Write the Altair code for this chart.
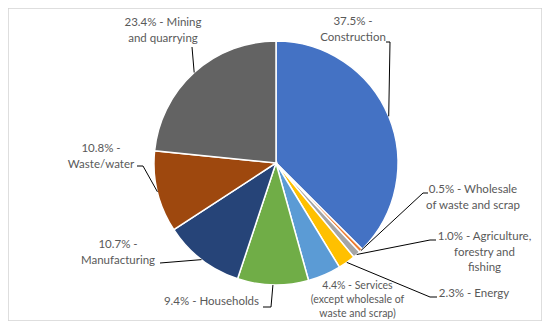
import math
import altair as alt
import pandas as pd

# ---- data ----
categories = [
    "Construction",
    "Wholesale of waste and scrap",
    "Agriculture, forestry and fishing",
    "Energy",
    "Services (except wholesale of waste and scrap)",
    "Households",
    "Manufacturing",
    "Waste/water",
    "Mining and quarrying",
]
shares = [37.5, 0.5, 1.0, 2.3, 4.4, 9.4, 10.7, 10.8, 23.4]
label_texts = [
    "37.5% -\nConstruction",
    "0.5% - Wholesale\nof waste and scrap",
    "1.0% - Agriculture,\nforestry and\nfishing",
    "2.3% - Energy",
    "4.4% - Services\n(except wholesale of\nwaste and scrap)",
    "9.4% - Households",
    "10.7% -\nManufacturing",
    "10.8% -\nWaste/water",
    "23.4% - Mining\nand quarrying",
]
colors = ["#4472C4", "#ED7D31", "#A5A5A5", "#FFC000", "#5B9BD5",
          "#70AD47", "#264478", "#9E480E", "#636363"]

# ---- layout (page pixel coordinates; y = first text line) ----
OFF = 8
W, H = 534, 313
CX, CY, R = 276, 163, 122
label_pos = [(353, 22), (473, 190), (484.5, 237), (474, 293.5), (357.5, 286),
             (211.5, 302), (118, 245), (101, 149), (163, 23)]
leader_pts = [
    [(390, 42), (386, 42)],
    [(423, 193), (428, 193)],
    [(430, 240), (436, 240)],
    [(430, 297), (437, 297)],
    [],
    [(271, 307), (263, 307)],
    [(160, 263)],
    [(143, 166), (137, 166)],
    [(192, 47)],
]

# ---- build tables ----
pie = pd.DataFrame({"cat": categories, "share": shares, "idx": range(len(shares))})

total = sum(shares)
segs = []
cum = 0.0
for i, s in enumerate(shares):
    mid = (cum + s / 2) / total * 2 * math.pi
    cum += s
    pts = leader_pts[i]
    if not pts:
        continue
    sx = CX + R * math.sin(mid)
    sy = CY - R * math.cos(mid)
    chain = [(sx, sy)] + pts
    for (a, b), (c, d) in zip(chain[:-1], chain[1:]):
        segs.append({"x": a - OFF, "y": b - OFF, "x2": c - OFF, "y2": d - OFF})
segs = pd.DataFrame(segs)

labels = pd.DataFrame({
    "label": label_texts,
    "x": [p[0] - OFF for p in label_pos],
    "y": [p[1] - OFF for p in label_pos],
    "small": [c.startswith("Services") for c in categories],
})

xs = alt.Scale(domain=[0, W], range=[0, W])
ys = alt.Scale(domain=[0, H], range=[0, H])

arcs = alt.Chart(pie).mark_arc(stroke="white", strokeWidth=1.5).encode(
    theta=alt.Theta("share:Q", stack=True),
    order=alt.Order("idx:Q"),
    color=alt.Color("cat:N", scale=alt.Scale(domain=categories, range=colors), legend=None),
    x=alt.value(CX - OFF),
    y=alt.value(CY - OFF),
    radius=alt.value(R),
)

rules = alt.Chart(segs).mark_rule(color="#000000", strokeWidth=1).encode(
    x=alt.X("x:Q", scale=xs, axis=None),
    y=alt.Y("y:Q", scale=ys, axis=None),
    x2="x2:Q",
    y2="y2:Q",
)

text_main = alt.Chart(labels).transform_filter("!datum.small").mark_text(
    font="Lato", fontSize=11.5, color="#595959", lineBreak="\n",
    align="center", baseline="middle", lineHeight=15.5,
).encode(
    x=alt.X("x:Q", scale=xs, axis=None),
    y=alt.Y("y:Q", scale=ys, axis=None),
    text="label:N",
)

text_small = alt.Chart(labels).transform_filter("datum.small").mark_text(
    font="Lato", fontSize=10.5, color="#595959", lineBreak="\n",
    align="center", baseline="middle", lineHeight=14,
).encode(
    x=alt.X("x:Q", scale=xs, axis=None),
    y=alt.Y("y:Q", scale=ys, axis=None),
    text="label:N",
)

chart = alt.layer(arcs, rules, text_main, text_small).properties(
    width=W, height=H, autosize="none", padding=0,
).configure_view(stroke="#d4d4d4", strokeWidth=1.5)

chart.save("out.html", embed_options={"renderer": "svg", "actions": False})
